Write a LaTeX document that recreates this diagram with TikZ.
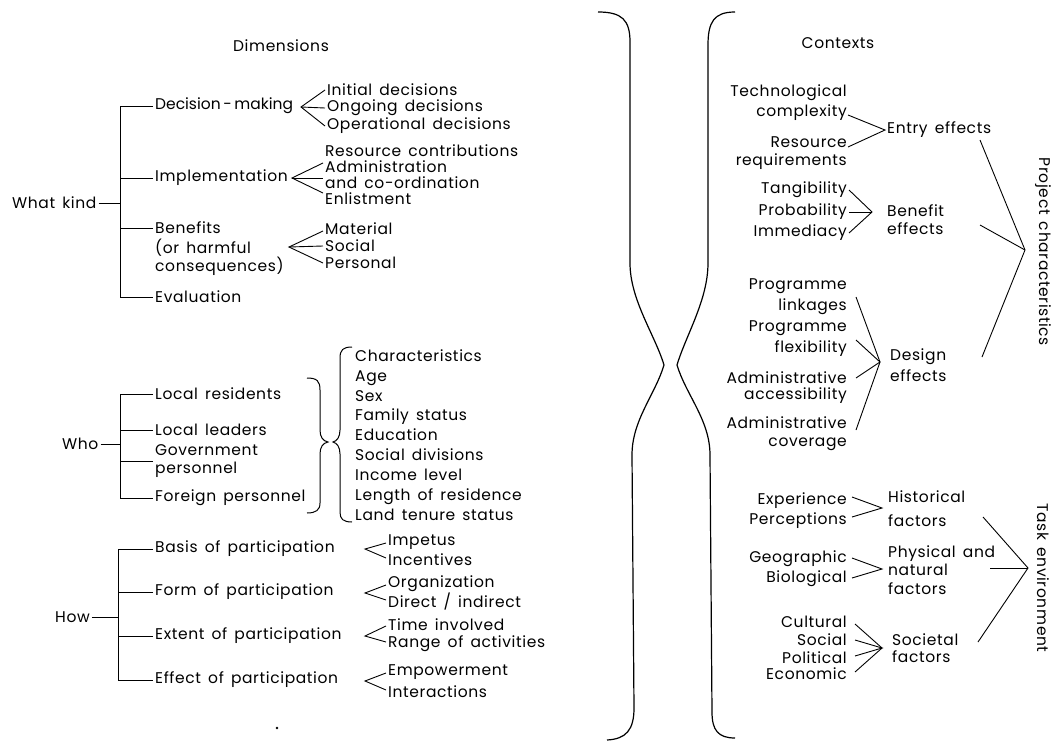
\documentclass[tikz,border=0pt]{standalone}
\usepackage{fontspec}
\setmainfont{Poppins}[LetterSpace=4, WordSpace=1.5]
\newcommand\dfont{\fontsize{15.5}{18.5}\selectfont}
\newcommand\fsk[1]{\fontsize{15.5}{#1}\selectfont}
\begin{document}
\begin{tikzpicture}[x=1pt,y=-1pt,
  lbl/.style={inner sep=2pt, anchor=west, font=\dfont},
  llbl/.style={inner sep=2pt, anchor=west, align=left, font=\dfont},
  rlbl/.style={inner sep=2pt, anchor=east, align=right, font=\dfont},
  ln/.style={line width=0.9pt},
  brace/.style={line width=1.2pt},
]
\useasboundingbox (0,0) rectangle (1052,742);

% ---------------- Dimensions ----------------
\node[lbl, anchor=center] (dim) at (281,46) {Dimensions};

% What kind
\node[lbl] (wk) at (10,203) {What kind};
\coordinate (wkj) at (120,203);
\coordinate (wks) at (120,106);
\draw[ln] (wk.east) -- (wkj);
\node[lbl] (dm) at (153,106) {\addfontfeature{LetterSpace=0}Decision\,-\,making};
\node[lbl] (im) at (153,178) {Implementation};
\node[lbl] (bf) at (153,228) {Benefits};
\node[llbl, font={\fsk{17}}] (bf2) at (153,257) {(or harmful\\consequences)};
\node[lbl] (ev) at (153,297) {Evaluation};
\draw[ln] (dm.west) -- (dm.west -| wks) -- (ev.west -| wks) -- (ev.west);
\draw[ln] (im.west) -- (im.west -| wks);
\draw[ln] (bf.west) -- (bf.west -| wks);

\node[lbl] (d1) at (325,90) {Initial decisions};
\node[lbl] (d2) at (325,108) {Ongoing decisions};
\node[lbl] (d3) at (325,126) {Operational decisions};
\coordinate (dmf) at (301,107);
\draw[ln] (d1.west) -- (dmf) -- (d3.west);
\draw[ln] (dmf) -- (d2.west);

\node[lbl] (i1) at (323,151) {Resource contributions};
\node[lbl] (i2) at (323,167) {Administration};
\node[lbl] (i3) at (323,183) {and co-ordination};
\node[lbl] (i4) at (323,199) {Enlistment};
\coordinate (imf) at (292,178);
\draw[ln] ([yshift=4pt]i2.west) -- (imf) -- ([yshift=6pt]i4.west);
\draw[ln] (imf) -- ([yshift=5pt]i3.west);

\node[lbl] (b1) at (323,229) {Material};
\node[lbl] (b2) at (323,246) {Social};
\node[lbl] (b3) at (323,263) {Personal};
\coordinate (bff) at (289,247);
\draw[ln] ([yshift=-2pt]b1.west) -- (bff) -- (b3.west);
\draw[ln] (bff) -- (b2.west);

% Who
\node[lbl] (who) at (60,444) {Who};
\coordinate (whj) at (120,444);
\coordinate (whs) at (120,394);
\draw[ln] (who.east) -- (whj);
\node[lbl] (lr) at (153,394) {Local residents};
\node[lbl] (ll) at (153,430) {Local leaders};
\node[llbl, font={\fsk{18}}] (gp) at (153,461) {Government\\personnel};
\node[lbl] (fp) at (153,498) {Foreign personnel};
\draw[ln] (lr.west) -- (lr.west -| whs) -- (fp.west -| whs) -- (fp.west);
\draw[ln] (ll.west) -- (ll.west -| whs);
\draw[ln] (gp.west) -- (gp.west -| whs);

\draw[ln, line width=1pt] (307,378) .. controls (317,378) and (320,381) .. (320,390) -- (320,430)
  .. controls (320,437) and (323,441) .. (328,442) .. controls (323,443) and (320,447) .. (320,454)
  -- (320,503) .. controls (320,510) and (316,513) .. (307,513);
\draw[ln, line width=1pt] (352,347) .. controls (343,347) and (340,350) .. (340,358) -- (340,430)
  .. controls (340,437) and (337,441) .. (333,442) .. controls (337,443) and (340,447) .. (340,454)
  -- (340,512) .. controls (340,519) and (343,522) .. (352,522);
\node[llbl, font={\fsk{19.9}}] (chars) at (353,435)
  {Characteristics\\Age\\Sex\\Family status\\Education\\Social divisions\\Income level\\Length of residence\\Land tenure status};

% How
\node[lbl] (how) at (53,617) {How};
\coordinate (hwj) at (118,617);
\coordinate (hws) at (118,549);
\draw[ln] (how.east) -- (hwj);
\node[lbl] (bp) at (153,549) {Basis of participation};
\node[lbl] (fop) at (153,592) {Form of participation};
\node[lbl] (ep) at (153,636) {Extent of participation};
\node[lbl] (efp) at (153,680) {Effect of participation};
\draw[ln] (bp.west) -- (bp.west -| hws) -- (efp.west -| hws) -- (efp.west);
\draw[ln] (fop.west) -- (fop.west -| hws);
\draw[ln] (ep.west) -- (ep.west -| hws);

\node[lbl] (s1) at (386,542) {Impetus};
\node[lbl] (s2) at (386,560) {Incentives};
\node[lbl] (s3) at (386,584) {Organization};
\node[lbl] (s4) at (386,602) {Direct / indirect};
\node[lbl] (s5) at (386,625) {Time involved};
\node[lbl] (s6) at (386,644) {Range of activities};
\node[lbl] (s7) at (386,672) {Empowerment};
\node[lbl] (s8) at (386,692) {Interactions};
\coordinate (h1) at (365,549);
\coordinate (h2) at (365,593);
\coordinate (h3) at (365,636);
\coordinate (h4) at (365,681);
\draw[ln] ([yshift=-1pt]s1.west) -- (h1) -- ([yshift=2pt]s2.west);
\draw[ln] ([yshift=-1pt]s3.west) -- (h2) -- ([yshift=2pt]s4.west);
\draw[ln] ([yshift=-1pt]s5.west) -- (h3) -- ([yshift=2pt]s6.west);
\draw[ln] ([yshift=-1pt]s7.west) -- (h4) -- ([yshift=2pt]s8.west);

\fill (277,728) circle (1.3);

% ---------------- Big braces ----------------
\draw[brace] (598,12) .. controls (622,12) and (630,20) .. (630,42) -- (630,263)
  .. controls (630,300) and (655,335) .. (664,365)
  .. controls (655,395) and (632,420) .. (632,455) -- (634,708)
  .. controls (634,730) and (626,739) .. (607,740);
\draw[brace] (735,12) .. controls (714,12) and (708,22) .. (708,45) -- (708,263)
  .. controls (708,300) and (686,335) .. (677,365)
  .. controls (686,395) and (710,420) .. (710,455) -- (712,712)
  .. controls (712,730) and (718,738) .. (735,738);

% ---------------- Contexts ----------------
\node[lbl, anchor=center] (ctx) at (838,43) {Contexts};

\node[rlbl, font={\fsk{20}}] (tc) at (849,103) {Technological\\complexity};
\node[rlbl, font={\fsk{18}}] (rr) at (849,153) {Resource\\requirements};
\node[lbl] (ent) at (885,130) {Entry effects};
\coordinate (tcx) at (848,115);
\coordinate (rrx) at (848,147);
\draw[ln] (tcx) -- (ent.west) -- (rrx);

\node[rlbl] (tg) at (849,190) {Tangibility};
\node[rlbl] (pr) at (849,212) {Probability};
\node[rlbl] (imd) at (849,233) {Immediacy};
\coordinate (bt) at (872,212);
\draw[ln] (tg.east) -- (bt) -- (imd.east);
\draw[ln] (pr.east) -- (bt);
\node[llbl, font={\fsk{18}}] (bef) at (885,220) {Benefit\\effects};

\node[rlbl, font={\fsk{21}}] (pl) at (849,297) {Programme\\linkages};
\node[rlbl, font={\fsk{21}}] (pf) at (849,339) {Programme\\flexibility};
\node[rlbl, font={\fsk{16}}] (aa) at (849,388) {Administrative\\accessibility};
\node[rlbl, font={\fsk{18}}] (ac) at (849,434) {Administrative\\coverage};
\coordinate (dt) at (880,362);
\coordinate (pl1) at (856,297);
\coordinate (pf1) at (856,340);
\coordinate (aa1) at (856,378);
\coordinate (ac1) at (856,430);
\draw[ln] (pl1) -- (dt) -- (ac1);
\draw[ln] (pf1) -- (dt) -- (aa1);
\node[llbl, font={\fsk{21}}] (des) at (888,365) {Design\\effects};

\coordinate (pt) at (1025,250);
\coordinate (pe1) at (980,140);
\coordinate (pe2) at (980,225);
\coordinate (pe3) at (982,357);
\draw[ln] (pe1) -- (pt) -- (pe3);
\draw[ln] (pe2) -- (pt);
\node[font=\dfont, rotate=-90, inner sep=0] (pc) at (1043,252) {Project characteristics};

% Task environment
\node[rlbl] (exp) at (849,501) {Experience};
\node[rlbl] (per) at (849,521) {Perceptions};
\coordinate (ht) at (882,508);
\coordinate (ex1) at (852,497);
\coordinate (pe1b) at (852,517);
\draw[ln] (ex1) -- (ht) -- (pe1b);
\node[llbl, font={\fsk{24}}] (his) at (886,509) {Historical\\factors};

\node[rlbl] (geo) at (849,559) {Geographic};
\node[rlbl] (bio) at (849,579) {Biological};
\coordinate (gt) at (882,569);
\coordinate (ge1) at (852,558);
\coordinate (bi1) at (852,578);
\draw[ln] (ge1) -- (gt) -- (bi1);
\node[llbl, font={\fsk{18.5}}] (phy) at (886,570) {Physical and\\natural\\factors};

\node[rlbl] (cul) at (849,622) {Cultural};
\node[rlbl] (soc) at (849,640) {Social};
\node[rlbl] (pol) at (849,658) {Political};
\node[rlbl] (eco) at (849,674) {Economic};
\coordinate (st) at (882,648);
\coordinate (cu1) at (855,624);
\coordinate (so1) at (855,640);
\coordinate (po1) at (855,656);
\coordinate (ec1) at (855,672);
\draw[ln] (cu1) -- (st) -- (ec1);
\draw[ln] (so1) -- (st) -- (po1);
\node[llbl, font={\fsk{17}}] (sf) at (890,648) {Societal\\factors};

\coordinate (tt) at (1028,568);
\coordinate (te1) at (983,517);
\coordinate (te2) at (990,568);
\coordinate (te3) at (978,642);
\draw[ln] (te1) -- (tt) -- (te3);
\draw[ln] (te2) -- (tt);
\node[font=\dfont, rotate=-90, inner sep=0] (te) at (1043,578) {Task environment};
\end{tikzpicture}
\end{document}
